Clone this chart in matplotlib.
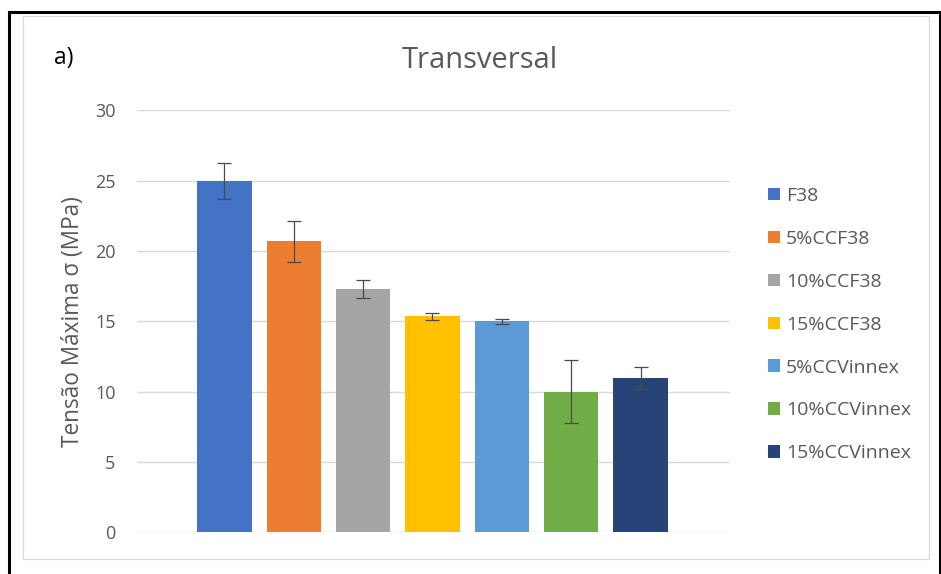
import matplotlib
matplotlib.use("Agg")
import matplotlib.pyplot as plt
from matplotlib.lines import Line2D
from matplotlib.patches import Rectangle

plt.rcParams['font.family'] = ['Open Sans', 'DejaVu Sans']

# Data
series = ["F38", "5%CCF38", "10%CCF38", "15%CCF38",
          "5%CCVinnex", "10%CCVinnex", "15%CCVinnex"]
stress = [25.0, 20.7, 17.3, 15.35, 15.0, 10.0, 11.0]
stress_err = [1.3, 1.45, 0.65, 0.22, 0.15, 2.23, 0.78]
colors = ["#4472C4", "#ED7D31", "#A5A5A5", "#FFC000",
          "#5B9BD5", "#70AD47", "#264478"]
yticks = [0, 5, 10, 15, 20, 25, 30]

W, H = 941, 574
fig = plt.figure(figsize=(W / 100, H / 100), dpi=100)

# Outer frame
frame_inner = Rectangle((23 / W, 1 - 559 / H), (929 - 23) / W, (559 - 16) / H,
                        transform=fig.transFigure, fill=False,
                        edgecolor="#D9D9D9", lw=0.9)
fig.patches.append(frame_inner)
for xs, ys in [([9 / W, 9 / W], [0, 1 - 12 / H]),
               ([9 / W, 939.5 / W], [1 - 12 / H, 1 - 12 / H]),
               ([939.5 / W, 939.5 / W], [0, 1 - 12 / H])]:
    fig.add_artist(Line2D(xs, ys, transform=fig.transFigure,
                          color="black", lw=2.2, solid_capstyle="projecting"))

ax = fig.add_axes([137 / W, (H - 532.3) / H, (730 - 137) / W, 421.8 / H])
ax.set_ylim(0, 30)
ax.set_xlim(-1.26, 7.29)

width = 0.785
for i, (name, v, e, c) in enumerate(zip(series, stress, stress_err, colors)):
    ax.bar(i, v, width, color=c, label=name, zorder=2,
           yerr=e, error_kw=dict(ecolor="#4A4A4A", elinewidth=0.9,
                                 capsize=5.0, capthick=0.9, zorder=3))

ax.set_yticks(yticks)
ax.set_xticks([])
ax.yaxis.grid(True, color="#D9D9D9", lw=1.0, zorder=0)
ax.set_axisbelow(True)
for s in ax.spines.values():
    s.set_visible(False)
ax.tick_params(axis="y", length=0, pad=15.5, labelsize=13, labelcolor="#595959")
ax.set_ylabel("Tensão Máxima σ (MPa)", fontsize=16.3, color="#595959")
ax.yaxis.set_label_coords((85 - 137) / 593, 0.5)

fig.text(480 / W, 1 - 68 / H, "Transversal", ha="center", va="baseline",
         fontsize=21, color="#595959")
fig.text(54 / W, 1 - 63.5 / H, "a)", ha="left", va="baseline",
         fontsize=16.5, color="black")

fs_leg = 14
em = fs_leg * 100 / 72
leg = fig.legend(loc="upper left", bbox_to_anchor=(768 / W, 1 - 187 / H),
                 frameon=False, fontsize=fs_leg, handlelength=12 / em,
                 handleheight=12 / em, handletextpad=6 / em, labelspacing=1.28,
                 borderpad=0, borderaxespad=0)
for t in leg.get_texts():
    t.set_color("#595959")

fig.savefig("out.png", dpi=100)
